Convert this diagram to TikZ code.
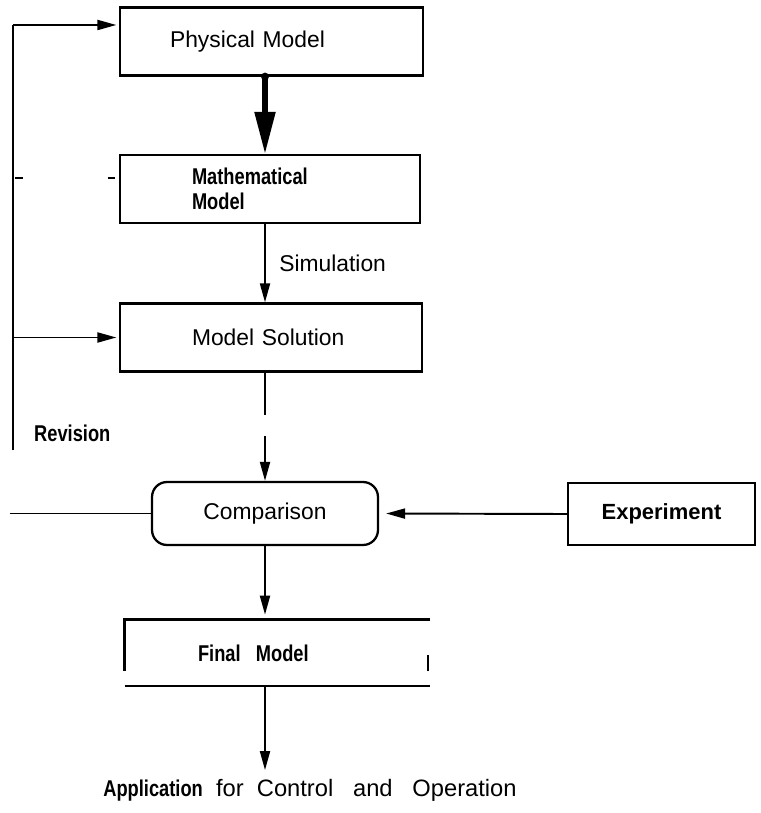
\documentclass[tikz,border=0pt]{standalone}
\usepackage{fontspec}
\setmainfont{Liberation Sans}
\newfontfamily\narrowsf[FakeStretch=0.8]{Liberation Sans}
\usetikzlibrary{arrows.meta}

\begin{document}
\begin{tikzpicture}[x=0.02cm, y=-0.02cm,
    box/.style={draw, line width=1.3pt, minimum height=1.36cm, align=left},
    lbl/.style={font=\fontsize{13}{15}\selectfont},
    blbl/.style={font=\narrowsf\bfseries\fontsize{13}{14}\selectfont},
    conn/.style={line width=1.1pt},
    arr/.style={conn, -{Triangle[length=0.38cm, width=0.2cm]}},
    bigarr/.style={line width=3pt, -{Triangle[length=0.84cm, width=0.4cm]}}]
    \useasboundingbox (0,0) rectangle (760,813);
    % caixas do modelo
    \node[box, lbl, inner xsep=1cm, text width=4.06cm] (phys) at (271.5,41.5) {Physical Model};
    \node[box, blbl, inner xsep=1.44cm, text width=3.12cm] (math) at (270,189) {Mathematical\\Model};
    \node[box, lbl, inner xsep=1.44cm, text width=3.16cm] (sol) at (271,337.5) {Model Solution};
    \node[box, lbl, rounded corners=0.3cm, minimum width=4.52cm, minimum height=1.26cm] (cmp) at (265,513.5) {Comparison};
    \node[box, font=\bfseries\fontsize{12.5}{15}\selectfont, minimum width=3.74cm, minimum height=1.24cm] (exp) at (661.5,514) {Experiment};
    \node[blbl, inner xsep=1.46cm, text width=3.18cm, minimum height=1.32cm, align=left] (fin) at (277.5,653) {Final~~Model};
    \node[font=\fontsize{13.5}{15}\selectfont, inner sep=2pt] (app) at (310,790) {{\narrowsf\bfseries\fontsize{13}{15}\selectfont Application}~~for~ Control~~ and~~ Operation};
    % moldura aberta do modelo final
    \draw[line width=1.6pt] (fin.north east) -- (fin.north west) -- ++(0,51);
    \draw[conn] (fin.south west) -- (fin.south east);
    \draw[conn] (fin.south east) ++(-2,-15) -- ++(0,-16);
    % revisao
    \coordinate (revtop) at (13,25);
    \coordinate (revbot) at (13,450);
    \coordinate (revend) at (10,516);
    \node[blbl, anchor=west] (rev) at (28,433) {Revision};
    \draw[line width=1.7pt] (revbot) -- (revtop);
    \draw[arr, shorten >=0.05cm] (revtop) -- (revtop -| phys.west);
    \draw[arr, shorten >=0.05cm] (revbot |- sol.west) -- (sol.west);
    \draw[conn] (cmp.west) -- (cmp.west -| revend);
    \draw[conn] (15,178) -- (23,178);
    \draw[conn] (108,178) -- (115,178);
    % fluxo principal
    \draw[bigarr] (phys.south -| cmp) -- (math.north -| cmp);
    \fill (phys.south -| cmp) circle (0.08cm);
    \draw[arr] (math.south -| cmp) -- node[lbl, right=0.15cm] (sim) {Simulation} (sol.north -| cmp);
    \draw[arr, dash pattern=on 0.84cm off 0.42cm on 3cm] (sol.south -| cmp) -- (cmp.north);
    \draw[arr, shorten >=0.14cm] (exp.west) -- (cmp.east);
    \draw[arr, shorten >=0.1cm] (cmp.south) -- (fin.north -| cmp);
    \draw[arr, shorten >=0.1cm] (fin.south -| cmp) -- (app.north -| cmp);
\end{tikzpicture}
\end{document}
